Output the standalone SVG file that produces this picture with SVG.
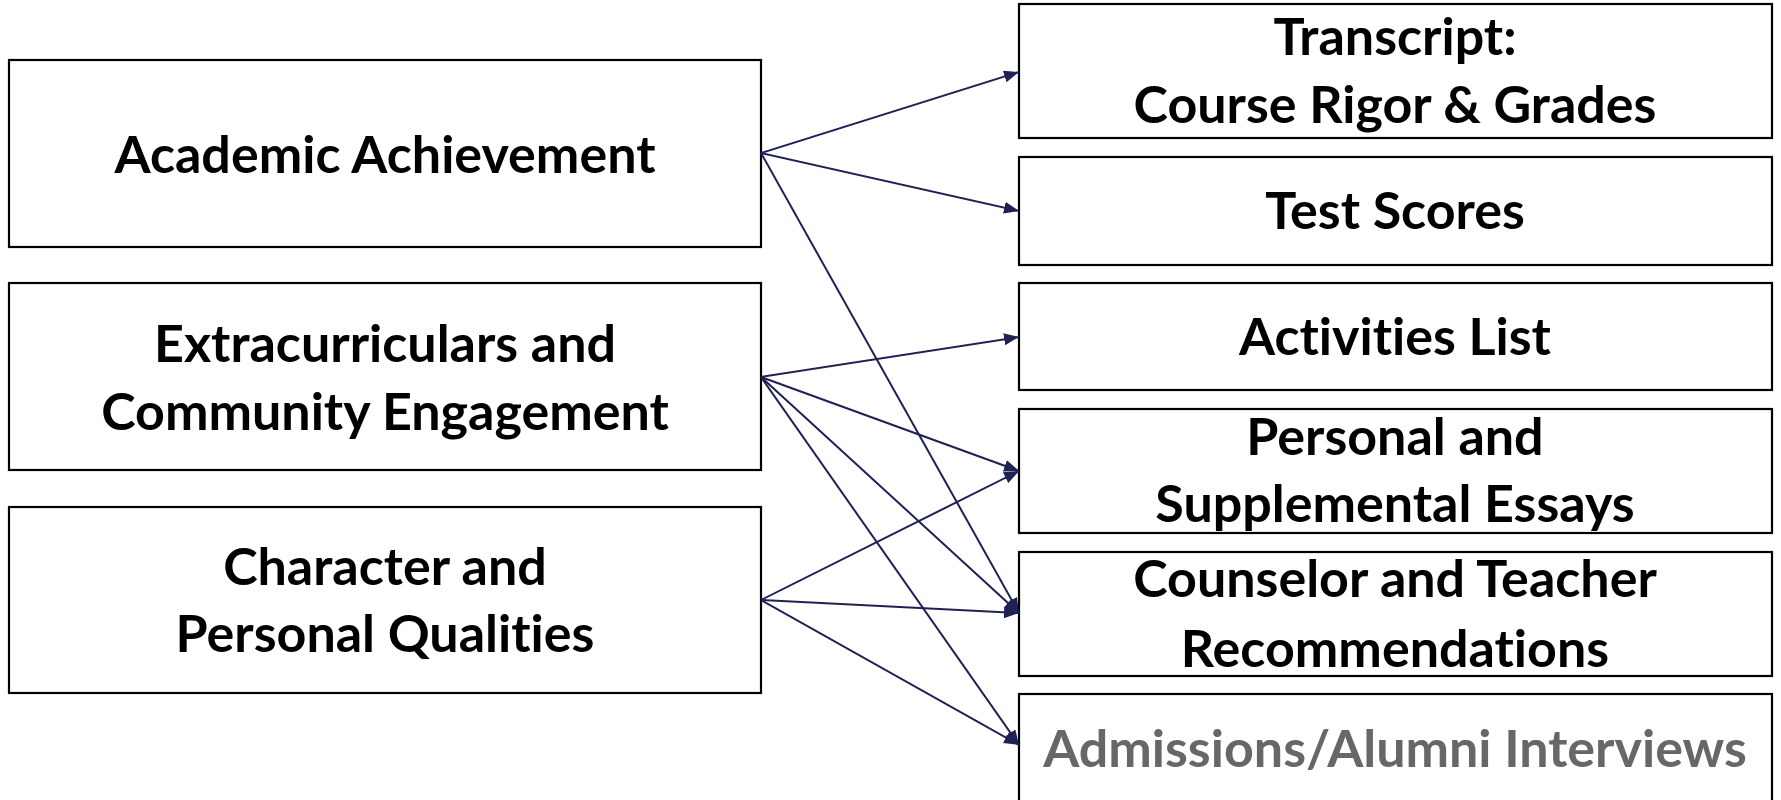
<svg xmlns="http://www.w3.org/2000/svg" width="1781" height="800" viewBox="0 0 1781 800">
<style>
.box{fill:#fff;stroke:#000;stroke-width:2.2}
.t{font-family:Lato,"Open Sans","Liberation Sans",sans-serif;font-weight:bold;font-size:52px;fill:#000;text-anchor:middle;font-variant-ligatures:none;font-feature-settings:"liga" 0}
.g{fill:#676767}
.c{stroke:#1f2155;stroke-width:2;fill:none;marker-end:url(#ah)}
</style>
<defs>
<marker id="ah" markerUnits="userSpaceOnUse" markerWidth="16" markerHeight="13" refX="15" refY="6" orient="auto">
<path d="M0,0 L15,6 L0,12 z" fill="#1f2155"/>
</marker>
</defs>
<rect width="1781" height="800" fill="#fff"/>
<g id="n-academic"><rect class="box" x="9" y="60" width="752" height="187"/><text class="t" x="385" y="173">Academic Achievement</text></g>
<g id="n-extra"><rect class="box" x="9" y="283" width="752" height="187"/><text class="t" x="385" y="362">Extracurriculars and</text><text class="t" x="385" y="430">Community Engagement</text></g>
<g id="n-character"><rect class="box" x="9" y="507" width="752" height="186"/><text class="t" x="385" y="585">Character and</text><text class="t" x="385" y="652">Personal Qualities</text></g>
<g id="n-transcript"><rect class="box" x="1019" y="4" width="753" height="134"/><text class="t" x="1395" y="55">Transcript:</text><text class="t" x="1395" y="123">Course Rigor &amp; Grades</text></g>
<g id="n-test"><rect class="box" x="1019" y="157" width="753" height="108"/><text class="t" x="1395" y="229">Test Scores</text></g>
<g id="n-activities"><rect class="box" x="1019" y="283" width="753" height="107"/><text class="t" x="1395" y="355">Activities List</text></g>
<g id="n-essays"><rect class="box" x="1019" y="409" width="753" height="124"/><text class="t" x="1395" y="455">Personal and</text><text class="t" x="1395" y="522">Supplemental Essays</text></g>
<g id="n-recs"><rect class="box" x="1019" y="552" width="753" height="124"/><text class="t" x="1395" y="597">Counselor and Teacher</text><text class="t" x="1395" y="667">Recommendations</text></g>
<g id="n-interviews"><rect class="box" x="1019" y="694" width="753" height="130"/><text class="t g" x="1395" y="767">Admissions/Alumni Interviews</text></g>
<g id="connectors">
<line class="c" x1="761" y1="153" x2="1019" y2="72"/>
<line class="c" x1="761" y1="153" x2="1019" y2="211"/>
<line class="c" x1="761" y1="153" x2="1019" y2="613"/>
<line class="c" x1="761" y1="377" x2="1019" y2="337"/>
<line class="c" x1="761" y1="377" x2="1019" y2="471"/>
<line class="c" x1="761" y1="377" x2="1019" y2="613"/>
<line class="c" x1="761" y1="377" x2="1019" y2="745"/>
<line class="c" x1="761" y1="600" x2="1019" y2="471"/>
<line class="c" x1="761" y1="600" x2="1019" y2="613"/>
<line class="c" x1="761" y1="600" x2="1019" y2="745"/>
</g>
</svg>
